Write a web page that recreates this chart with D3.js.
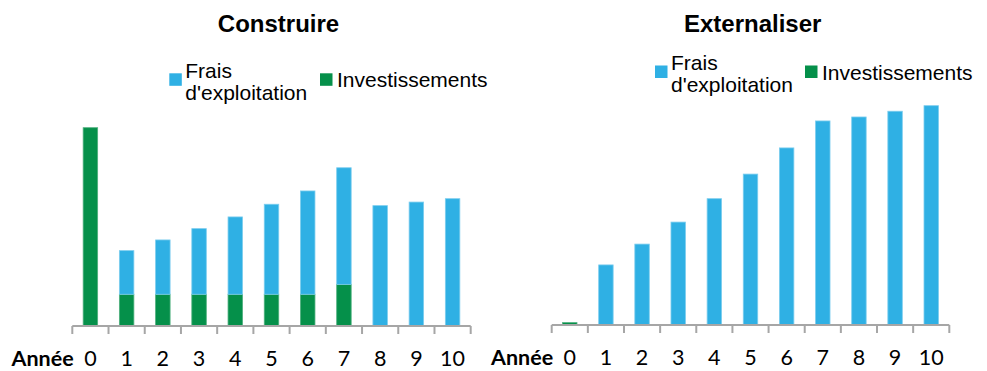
<!DOCTYPE html>
<html>
<head>
<meta charset="utf-8">
<script src="https://cdn.jsdelivr.net/npm/d3@7"></script>
<style>
  html, body { margin: 0; padding: 0; background: #fff; }
  svg { display: block; }
</style>
</head>
<body>
<svg id="chart" width="987" height="371"></svg>
<script>
// Years on the horizontal axis
const years = ["0", "1", "2", "3", "4", "5", "6", "7", "8", "9", "10"];

// "Construire": investments and operating costs per year
const construireInvest  = [100, 16, 16, 16, 16, 16, 16, 21, 0, 0, 0];
const construireExploit = [0, 22, 27.4, 33.1, 39, 45.4, 52.1, 58.8, 60.7, 62.5, 64.2];

// "Externaliser": investments and operating costs per year
const externaliserInvest  = [1.2, 0.2, 0.2, 0.2, 0.2, 0.2, 0.2, 0.2, 0, 0, 0];
const externaliserExploit = [0, 30.1, 40.6, 51.7, 63.5, 75.9, 89.1, 102.7, 104.9, 107.8, 110.6];

// Series names shown in the legends
const seriesLabels = { exploit: ["Frais", "d'exploitation"], invest: "Investissements" };
const axisTitle = "Année";

const colors = { exploit: "#2FB0E4", invest: "#05904A" };
const strokes = { exploit: "#7CCDEE", invest: "#4FB07E" };

const svg = d3.select("#chart");

function drawPanel(p) {
  const g = svg.append("g");

  const x = d3.scaleBand()
    .domain(years)
    .range([p.x0, p.x1])
    .paddingInner(0.6)
    .paddingOuter(0.3);

  const y = d3.scaleLinear()
    .domain([0, 120])
    .range([p.base, p.base - 120 * 1.983]);

  const rows = years.map((yr, i) => ({ year: yr, invest: p.invest[i], exploit: p.exploit[i] }));
  const stack = d3.stack().keys(["invest", "exploit"])(rows);

  // stacked bars
  g.selectAll("g.series")
    .data(stack)
    .join("g")
    .attr("class", "series")
    .attr("fill", d => colors[d.key])
    .attr("stroke", d => strokes[d.key])
    .attr("stroke-width", 0.8)
    .selectAll("rect")
    .data(d => d.filter(s => s[1] - s[0] > 0))
    .join("rect")
    .attr("x", d => x(d.data.year))
    .attr("width", x.bandwidth())
    .attr("y", d => y(d[1]))
    .attr("height", d => y(d[0]) - y(d[1]));

  // category axis: baseline and boundary ticks
  const step = x.step();
  const bounds = d3.range(years.length + 1).map(i => p.x0 + i * step);
  g.append("line")
    .attr("x1", p.x0).attr("x2", p.x1)
    .attr("y1", p.base).attr("y2", p.base)
    .attr("stroke", "#A6A6A6").attr("stroke-width", 2);
  g.selectAll("line.tick")
    .data(bounds)
    .join("line")
    .attr("class", "tick")
    .attr("x1", d => d).attr("x2", d => d)
    .attr("y1", p.base).attr("y2", p.base + 8)
    .attr("stroke", "#A6A6A6").attr("stroke-width", 2);

  // year labels
  const axis = g.append("g")
    .attr("transform", `translate(0,${p.labelY})`)
    .call(d3.axisBottom(x).tickSize(0).tickPadding(0));
  axis.select(".domain").remove();
  axis.selectAll("text")
    .attr("dy", 0)
    .attr("y", 0)
    .attr("font-family", "Lato, 'Open Sans', sans-serif")
    .attr("font-size", 21.5)
    .attr("fill", "#000");

  g.append("text")
    .attr("x", p.anneeX).attr("y", p.labelY)
    .attr("font-family", "Lato, 'Open Sans', sans-serif")
    .attr("font-weight", "bold")
    .attr("font-size", 21.5)
    .attr("fill", "#000")
    .text(axisTitle);

  // title
  g.append("text")
    .attr("x", p.titleX).attr("y", 32)
    .attr("text-anchor", "middle")
    .attr("font-family", "'Liberation Sans', Arial, sans-serif")
    .attr("font-weight", "bold")
    .attr("font-size", 24)
    .attr("fill", "#000")
    .text(p.title);

  // legend
  const lg = g.append("g")
    .attr("font-family", "'Liberation Sans', Arial, sans-serif")
    .attr("font-size", 21)
    .attr("fill", "#000");
  lg.append("rect")
    .attr("x", p.legX).attr("y", p.legY)
    .attr("width", 12.5).attr("height", 12.5)
    .attr("fill", colors.exploit);
  lg.append("text")
    .attr("x", p.legX + 16).attr("y", p.legY + 4.5)
    .text(seriesLabels.exploit[0]);
  lg.append("text")
    .attr("x", p.legX + 16).attr("y", p.legY + 26.5)
    .text(seriesLabels.exploit[1]);
  lg.append("rect")
    .attr("x", p.legX2).attr("y", p.legY)
    .attr("width", 12.5).attr("height", 12.5)
    .attr("fill", colors.invest);
  lg.append("text")
    .attr("x", p.legX2 + 17).attr("y", p.legY + 14)
    .text(seriesLabels.invest);
}

drawPanel({
  title: "Construire", titleX: 278.5,
  invest: construireInvest, exploit: construireExploit,
  x0: 72.3, x1: 470.7, base: 326, labelY: 366, anneeX: 11.5,
  legX: 169.3, legX2: 320, legY: 73.3
});

drawPanel({
  title: "Externaliser", titleX: 752.7,
  invest: externaliserInvest, exploit: externaliserExploit,
  x0: 551.7, x1: 949.3, base: 325, labelY: 365, anneeX: 491,
  legX: 655, legX2: 805, legY: 65.5
});
</script>
</body>
</html>
